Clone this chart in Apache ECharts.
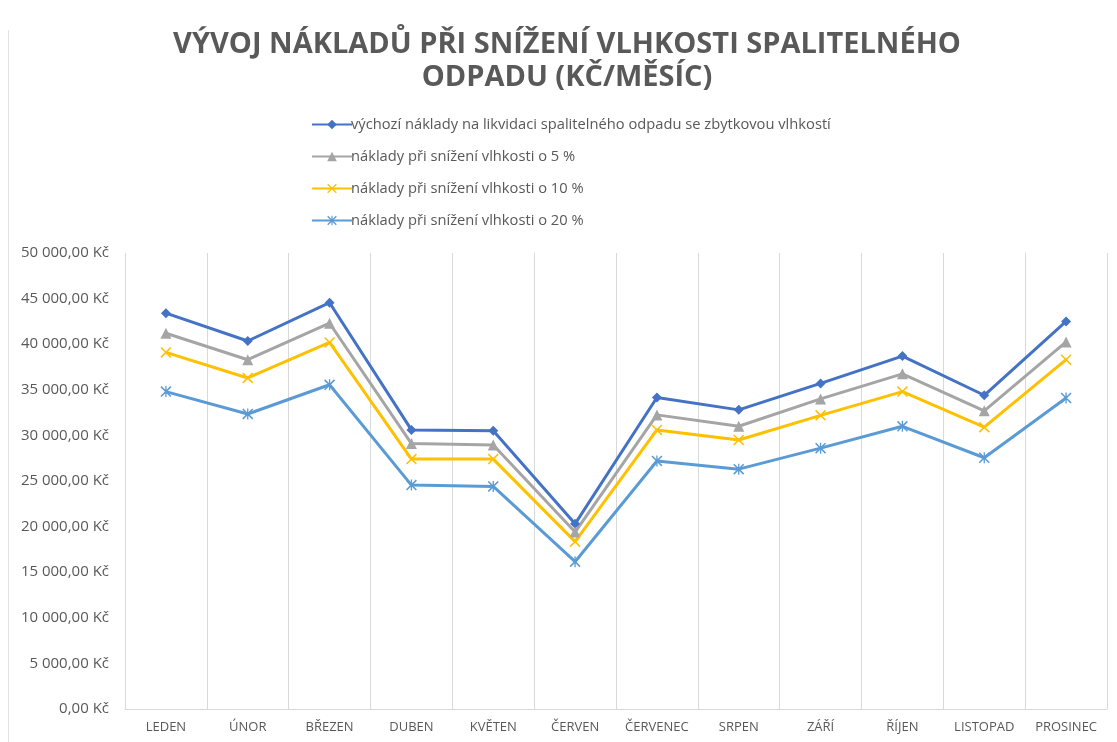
<!DOCTYPE html>
<html>
<head>
<meta charset="utf-8">
<script src="https://cdn.jsdelivr.net/npm/echarts@6/dist/echarts.min.js"></script>
<style>
	html, body { margin: 0; padding: 0; background: #fff; }
	#chart { width: 1117px; height: 742px; }
</style>
</head>
<body>
<div id="chart"></div>
<script>
// mesice
var months = ['LEDEN', 'ÚNOR', 'BŘEZEN', 'DUBEN', 'KVĚTEN', 'ČERVEN', 'ČERVENEC', 'SRPEN', 'ZÁŘÍ', 'ŘÍJEN', 'LISTOPAD', 'PROSINEC'];

// hodnoty (Kč)
var vychozi = [43400, 40350, 44550, 30600, 30500, 20300, 34150, 32800, 35700, 38700, 34400, 42500];
var snizeni5 = [41200, 38300, 42300, 29100, 28950, 19400, 32250, 31000, 34000, 36750, 32700, 40250];
var snizeni10 = [39100, 36300, 40200, 27400, 27400, 18350, 30600, 29500, 32200, 34800, 30900, 38300];
var snizeni20 = [34800, 32350, 35550, 24550, 24400, 16150, 27200, 26300, 28600, 31000, 27550, 34100];

var names = [
	'výchozí náklady na likvidaci spalitelného odpadu se zbytkovou vlhkostí',
	'náklady při snížení vlhkosti o 5 %',
	'náklady při snížení vlhkosti o 10 %',
	'náklady při snížení vlhkosti o 20 %'
];

var yMin = 0, yMax = 50000, yStep = 5000;

var crossPath = 'path://M0,1 L1,0 L10,9 L9,10 Z M9,0 L10,1 L1,10 L0,9 Z';
var starPath = 'path://M0,1 L1,0 L10,9 L9,10 Z M9,0 L10,1 L1,10 L0,9 Z M4.4,0 L5.6,0 L5.6,10 L4.4,10 Z';

function kc(v) {
	var s = Math.round(v).toString().replace(/\B(?=(\d{3})+(?!\d))/g, ' ');
	return s + ',00 Kč';
}

function makeSeries(name, data, color, symbol, size) {
	return {
		name: name,
		type: 'line',
		data: data,
		symbol: symbol,
		symbolSize: size,
		showAllSymbol: true,
		lineStyle: { color: color, width: 3 },
		itemStyle: { color: color },
		emphasis: { disabled: true },
		z: 3
	};
}

var chart = echarts.init(document.getElementById('chart'));
chart.setOption({
	backgroundColor: '#ffffff',
	animation: false,
	textStyle: { fontFamily: 'Open Sans' },
	title: {
		text: 'VÝVOJ NÁKLADŮ PŘI SNÍŽENÍ VLHKOSTI SPALITELNÉHO\nODPADU (KČ/MĚSÍC)',
		left: 567,
		top: 28,
		padding: 0,
		textAlign: 'center',
		textStyle: {
			fontFamily: 'Open Sans',
			fontWeight: 'bold',
			fontSize: 29,
			lineHeight: 33,
			color: '#595959'
		}
	},
	legend: {
		orient: 'vertical',
		left: 306,
		top: 112,
		itemWidth: 40,
		itemHeight: 12,
		itemGap: 17,
		data: names,
		textStyle: { fontSize: 14.7, color: '#595959', padding: [0, 0, 0, -6] }
	},
	grid: { left: 125, right: 10, top: 253, bottom: 33 },
	xAxis: {
		type: 'category',
		data: months,
		boundaryGap: true,
		axisLine: { lineStyle: { color: '#d9d9d9', width: 1 } },
		axisTick: { show: false },
		splitLine: { show: true, lineStyle: { color: '#d9d9d9', width: 1 } },
		axisLabel: { color: '#595959', fontSize: 13, margin: 12, interval: 0 }
	},
	yAxis: {
		type: 'value',
		min: yMin,
		max: yMax,
		interval: yStep,
		axisLine: { show: false },
		axisTick: { show: false },
		splitLine: { show: false },
		axisLabel: { color: '#595959', fontSize: 15, margin: 16, formatter: kc }
	},
	graphic: [{
		type: 'line',
		shape: { x1: 8.5, y1: 30, x2: 8.5, y2: 742 },
		style: { stroke: '#e3e3e3', lineWidth: 1 }
	}],
	series: [
		makeSeries(names[0], vychozi, '#4472C4', 'diamond', 10),
		makeSeries(names[1], snizeni5, '#A5A5A5', 'triangle', 11),
		makeSeries(names[2], snizeni10, '#FFC000', crossPath, 11),
		makeSeries(names[3], snizeni20, '#5B9BD5', starPath, 11)
	]
});
</script>
</body>
</html>
